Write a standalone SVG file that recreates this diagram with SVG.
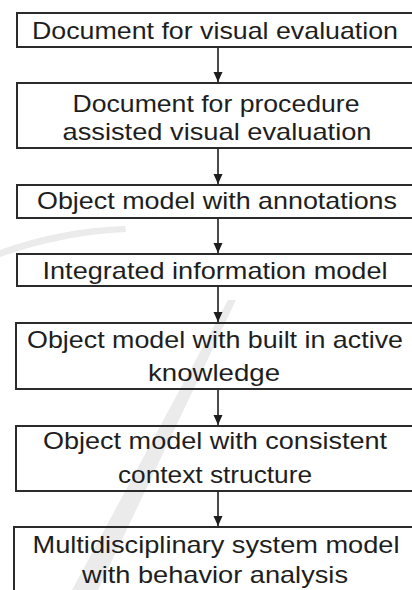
<svg xmlns="http://www.w3.org/2000/svg" width="412" height="590" viewBox="0 0 412 590">
  <style>
    .box { fill: none; stroke: #2b2b2b; stroke-width: 2; }
    .lbl { font-family: "Liberation Sans", Arial, sans-serif; font-size: 24px; fill: #1e1e1e; text-anchor: middle; }
    .wire { stroke: #1e1e1e; stroke-width: 1.6; fill: none; }
    .mark { fill: #ebebeb; stroke: none; }
  </style>
  <defs>
    <marker id="arrow" viewBox="0 0 10 10" refX="10" refY="5" markerWidth="10" markerHeight="10" markerUnits="userSpaceOnUse" orient="auto">
      <path d="M0,0.5 L10,5 L0,9.5 z" fill="#1e1e1e"/>
    </marker>
  </defs>

  <rect x="0" y="0" width="412" height="590" fill="#ffffff"/>

  <!-- faint background swoosh and slash -->
  <g id="watermark">
    <path class="mark" d="M0,250 Q60,228 125,226 L126,232 Q62,235 0,257 z"/>
    <path class="mark" d="M228,300 L236,300 L98,590 L72,590 z"/>
  </g>

  <g id="connectors">
    <line class="wire" x1="218" y1="47" x2="218" y2="82" marker-end="url(#arrow)"/>
    <line class="wire" x1="218" y1="148" x2="218" y2="184" marker-end="url(#arrow)"/>
    <line class="wire" x1="218" y1="218" x2="218" y2="253" marker-end="url(#arrow)"/>
    <line class="wire" x1="218" y1="286" x2="218" y2="322" marker-end="url(#arrow)"/>
    <line class="wire" x1="218" y1="389" x2="218" y2="425" marker-end="url(#arrow)"/>
    <line class="wire" x1="218" y1="491" x2="218" y2="526" marker-end="url(#arrow)"/>
  </g>

  <g id="n1">
    <rect class="box" x="17" y="13" width="401" height="34"/>
    <text class="lbl" x="215" y="39" textLength="366" lengthAdjust="spacingAndGlyphs">Document for visual evaluation</text>
  </g>
  <g id="n2">
    <rect class="box" x="17" y="83" width="401" height="65"/>
    <text class="lbl" x="216" y="112" textLength="287" lengthAdjust="spacingAndGlyphs">Document for procedure</text>
    <text class="lbl" x="217" y="140" textLength="309" lengthAdjust="spacingAndGlyphs">assisted visual evaluation</text>
  </g>
  <g id="n3">
    <rect class="box" x="17" y="185" width="401" height="33"/>
    <text class="lbl" x="217" y="209" textLength="360" lengthAdjust="spacingAndGlyphs">Object model with  annotations</text>
  </g>
  <g id="n4">
    <rect class="box" x="17" y="254" width="401" height="32"/>
    <text class="lbl" x="215" y="279" textLength="345" lengthAdjust="spacingAndGlyphs">Integrated information model</text>
  </g>
  <g id="n5">
    <rect class="box" x="16" y="323" width="402" height="66"/>
    <text class="lbl" x="215" y="348" textLength="376" lengthAdjust="spacingAndGlyphs">Object model with  built in active</text>
    <text class="lbl" x="214" y="381" textLength="132" lengthAdjust="spacingAndGlyphs">knowledge</text>
  </g>
  <g id="n6">
    <rect class="box" x="16" y="426" width="402" height="65"/>
    <text class="lbl" x="215" y="449" textLength="344" lengthAdjust="spacingAndGlyphs">Object model with  consistent</text>
    <text class="lbl" x="215" y="483" textLength="194" lengthAdjust="spacingAndGlyphs">context structure</text>
  </g>
  <g id="n7">
    <rect class="box" x="14" y="527" width="406" height="80"/>
    <text class="lbl" x="216" y="553" textLength="367" lengthAdjust="spacingAndGlyphs">Multidisciplinary system model</text>
    <text class="lbl" x="215" y="583" textLength="266" lengthAdjust="spacingAndGlyphs">with  behavior analysis</text>
  </g>
</svg>
